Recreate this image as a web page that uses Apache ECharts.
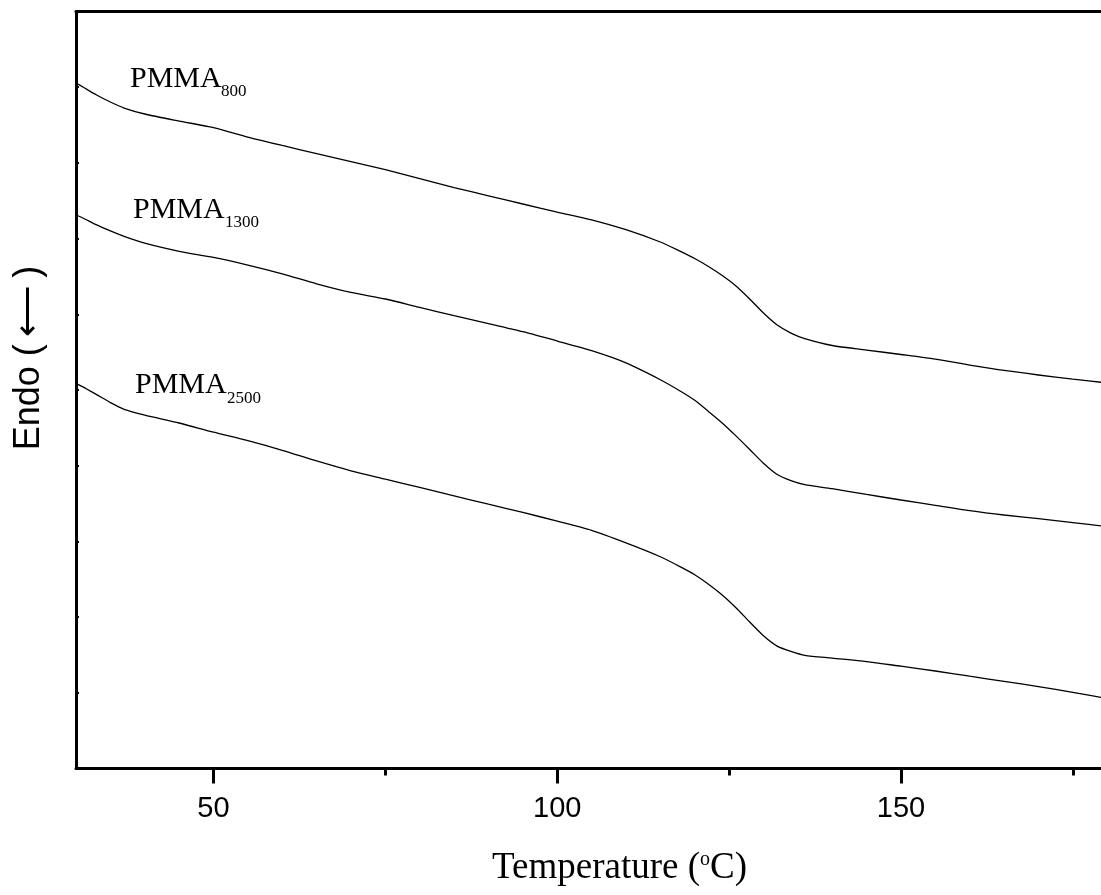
<!DOCTYPE html>
<html>
<head>
<meta charset="utf-8">
<script src="https://cdn.jsdelivr.net/npm/echarts@6/dist/echarts.min.js"></script>
<style>
html,body{margin:0;padding:0;background:#fff;}
#chart{width:1101px;height:895px;}
</style>
</head>
<body>
<div id="chart"></div>
<script>
// Temperature (°C) sample points
const temps = [30,31,33,35,37,40,45,50,55,60,65,70,75,80,85,90,95,100,105,110,115,118,120,122,124,126,128,130,132,134,136,140,145,150,155,160,165,170,175,180];
// Heat-flow traces (arbitrary units, Endo down)
const pmma800 = [9.055,9.003,8.897,8.804,8.725,8.646,8.553,8.466,8.342,8.230,8.124,8.018,7.911,7.793,7.674,7.565,7.457,7.351,7.248,7.118,6.955,6.827,6.737,6.631,6.512,6.374,6.202,6.017,5.858,5.752,5.679,5.588,5.528,5.469,5.407,5.330,5.258,5.198,5.143,5.094];
const pmma1300 = [7.312,7.272,7.181,7.102,7.030,6.939,6.832,6.752,6.651,6.535,6.403,6.289,6.202,6.091,5.983,5.878,5.770,5.647,5.519,5.358,5.136,4.981,4.864,4.717,4.565,4.394,4.215,4.033,3.884,3.803,3.750,3.696,3.620,3.547,3.477,3.407,3.349,3.300,3.248,3.197];
const pmma2500 = [5.088,5.042,4.939,4.834,4.744,4.668,4.564,4.443,4.330,4.203,4.063,3.933,3.822,3.713,3.601,3.491,3.383,3.267,3.145,2.980,2.797,2.660,2.559,2.435,2.293,2.124,1.935,1.754,1.617,1.547,1.495,1.458,1.413,1.351,1.288,1.219,1.151,1.082,1.007,0.925];
const majorTicks = [50,100,150];
const minorTicks = [75,125,175];
const seriesNames = ['PMMA800','PMMA1300','PMMA2500'];
const seriesValues = [pmma800, pmma1300, pmma2500];

const chart = echarts.init(document.getElementById('chart'), null, {renderer:'canvas'});
const serif = '"Liberation Serif","Times New Roman",serif';
const sans = '"Liberation Sans",Arial,sans-serif';
const X_MIN = 30, X_MAX = 179.1;

function pair(vals){ return temps.map((t,i)=>[t, vals[i]]); }

const option = {
  animation:false,
  backgroundColor:'#fff',
  grid:{left:76, top:11.5, bottom:126.5, right:0, containLabel:false},
  xAxis:[
    {type:'value', position:'bottom', min:X_MIN, max:X_MAX,
     axisLine:{show:true, lineStyle:{color:'#000', width:3}},
     axisTick:{show:true, customValues:majorTicks, length:15, lineStyle:{color:'#000', width:3}},
     axisLabel:{show:true, customValues:majorTicks, color:'#000', fontSize:29, fontFamily:sans, margin:26},
     splitLine:{show:false}},
    {type:'value', position:'top', min:X_MIN, max:X_MAX,
     axisLine:{show:true, lineStyle:{color:'#000', width:3}},
     axisTick:{show:false}, axisLabel:{show:false}, splitLine:{show:false}},
    {type:'value', position:'bottom', min:X_MIN, max:X_MAX,
     axisLine:{show:false},
     axisTick:{show:true, customValues:minorTicks, length:7, lineStyle:{color:'#000', width:3}},
     axisLabel:{show:false}, splitLine:{show:false}}
  ],
  yAxis:[
    {type:'value', min:0, max:10, interval:1, position:'left',
     axisLine:{show:true, lineStyle:{color:'#000', width:3}},
     axisTick:{show:true, inside:true, length:3, lineStyle:{color:'#000', width:2}},
     axisLabel:{show:false}, splitLine:{show:false}}
  ],
  series: seriesNames.map((n,i)=>({
    name:n, type:'line', xAxisIndex:0, yAxisIndex:0,
    data:pair(seriesValues[i]), showSymbol:false, symbol:'none',
    smooth:0.25, clip:true,
    lineStyle:{color:'#000', width:1.3}
  })),
  graphic:[
    {type:'text', left:130, top:64, style:{text:'PMMA', font:'30px '+serif, fill:'#000'}},
    {type:'text', left:221, top:83, style:{text:'800', font:'17px '+serif, fill:'#000'}},
    {type:'text', left:133, top:195, style:{text:'PMMA', font:'30px '+serif, fill:'#000'}},
    {type:'text', left:225, top:214, style:{text:'1300', font:'17px '+serif, fill:'#000'}},
    {type:'text', left:135, top:370, style:{text:'PMMA', font:'30px '+serif, fill:'#000'}},
    {type:'text', left:227, top:390, style:{text:'2500', font:'17px '+serif, fill:'#000'}},
    {type:'text', left:492, top:850, style:{
      text:'{a|Temperature (}{s|o}{a|C)}',
      rich:{a:{fontSize:37, fontFamily:serif, color:'#000', lineHeight:37},
            s:{fontSize:20, fontFamily:serif, color:'#000', lineHeight:20, verticalAlign:'top'}}
    }},
    {type:'text', x:29, y:358, rotation:Math.PI/2,
     style:{text:'Endo (\u2009\u27F5\u2009)', font:'36px '+sans, fill:'#000', textAlign:'center', textVerticalAlign:'middle'}}
  ]
};
chart.setOption(option);
</script>
</body>
</html>
